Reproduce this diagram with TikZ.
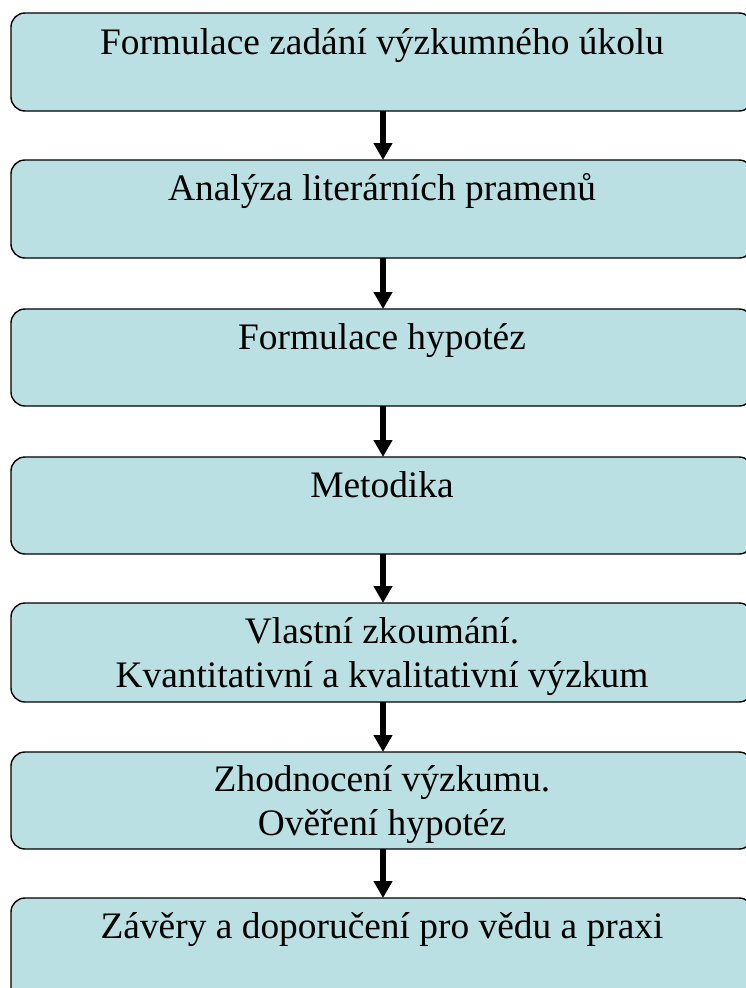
\documentclass[tikz,border=0pt]{standalone}
\usepackage{fontspec}
\setmainfont{Liberation Serif}
\usetikzlibrary{arrows.meta}
\definecolor{boxfill}{RGB}{187,224,227}
\tikzset{
  stage/.style={draw=black, line width=1.4pt, fill=boxfill, rounded corners=14pt,
    minimum width=742pt, inner sep=0pt, outer sep=0pt, anchor=north},
  stagetext/.style={anchor=base, align=center, inner sep=0pt,
    font=\fontsize{37.4}{44}\selectfont},
  flow/.style={line width=6.5pt, -{Triangle[width=18pt,length=17pt]}, shorten >=0pt}
}
\begin{document}
\begin{tikzpicture}[x=1pt,y=1pt]
\useasboundingbox (0,0) rectangle (746,-988);
\clip (0,0) rectangle (746,-988);
% stage boxes (top edge, height)
\node[stage, minimum height=98pt]  (b1) at (382,-13)  {};
\node[stage, minimum height=98pt]  (b2) at (382,-160) {};
\node[stage, minimum height=97pt]  (b3) at (382,-309) {};
\node[stage, minimum height=97pt]  (b4) at (382,-457) {};
\node[stage, minimum height=99pt]  (b5) at (382,-603) {};
\node[stage, minimum height=97pt]  (b6) at (382,-752) {};
\node[stage, minimum height=105pt] (b7) at (382,-898) {};
% captions
\node[stagetext] (t1) at ([yshift=-41pt]b1.north) {Formulace zadání výzkumného úkolu};
\node[stagetext] (t2) at ([yshift=-40pt]b2.north) {Analýza literárních pramenů};
\node[stagetext] (t3) at ([yshift=-40pt]b3.north) {Formulace hypotéz};
\node[stagetext] (t4) at ([yshift=-40pt]b4.north) {Metodika};
\node[stagetext] (t5a) at ([yshift=-40pt]b5.north) {Vlastní zkoumání.};
\node[stagetext] (t5b) at ([yshift=-84pt]b5.north) {Kvantitativní a kvalitativní výzkum};
\node[stagetext] (t6a) at ([yshift=-39pt]b6.north) {Zhodnocení výzkumu.};
\node[stagetext] (t6b) at ([yshift=-83pt]b6.north) {Ověření hypotéz};
\node[stagetext] (t7) at ([yshift=-40pt]b7.north) {Závěry a doporučení pro vědu a praxi};
% arrows between stages
\draw[flow] ([xshift=1pt]b1.south) -- ([xshift=1pt]b2.north);
\draw[flow] ([xshift=1pt]b2.south) -- ([xshift=1pt]b3.north);
\draw[flow] ([xshift=1pt]b3.south) -- ([xshift=1pt]b4.north);
\draw[flow] ([xshift=1pt]b4.south) -- ([xshift=1pt]b5.north);
\draw[flow] ([xshift=1pt]b5.south) -- ([xshift=1pt]b6.north);
\draw[flow] ([xshift=1pt]b6.south) -- ([xshift=1pt]b7.north);
\end{tikzpicture}
\end{document}
